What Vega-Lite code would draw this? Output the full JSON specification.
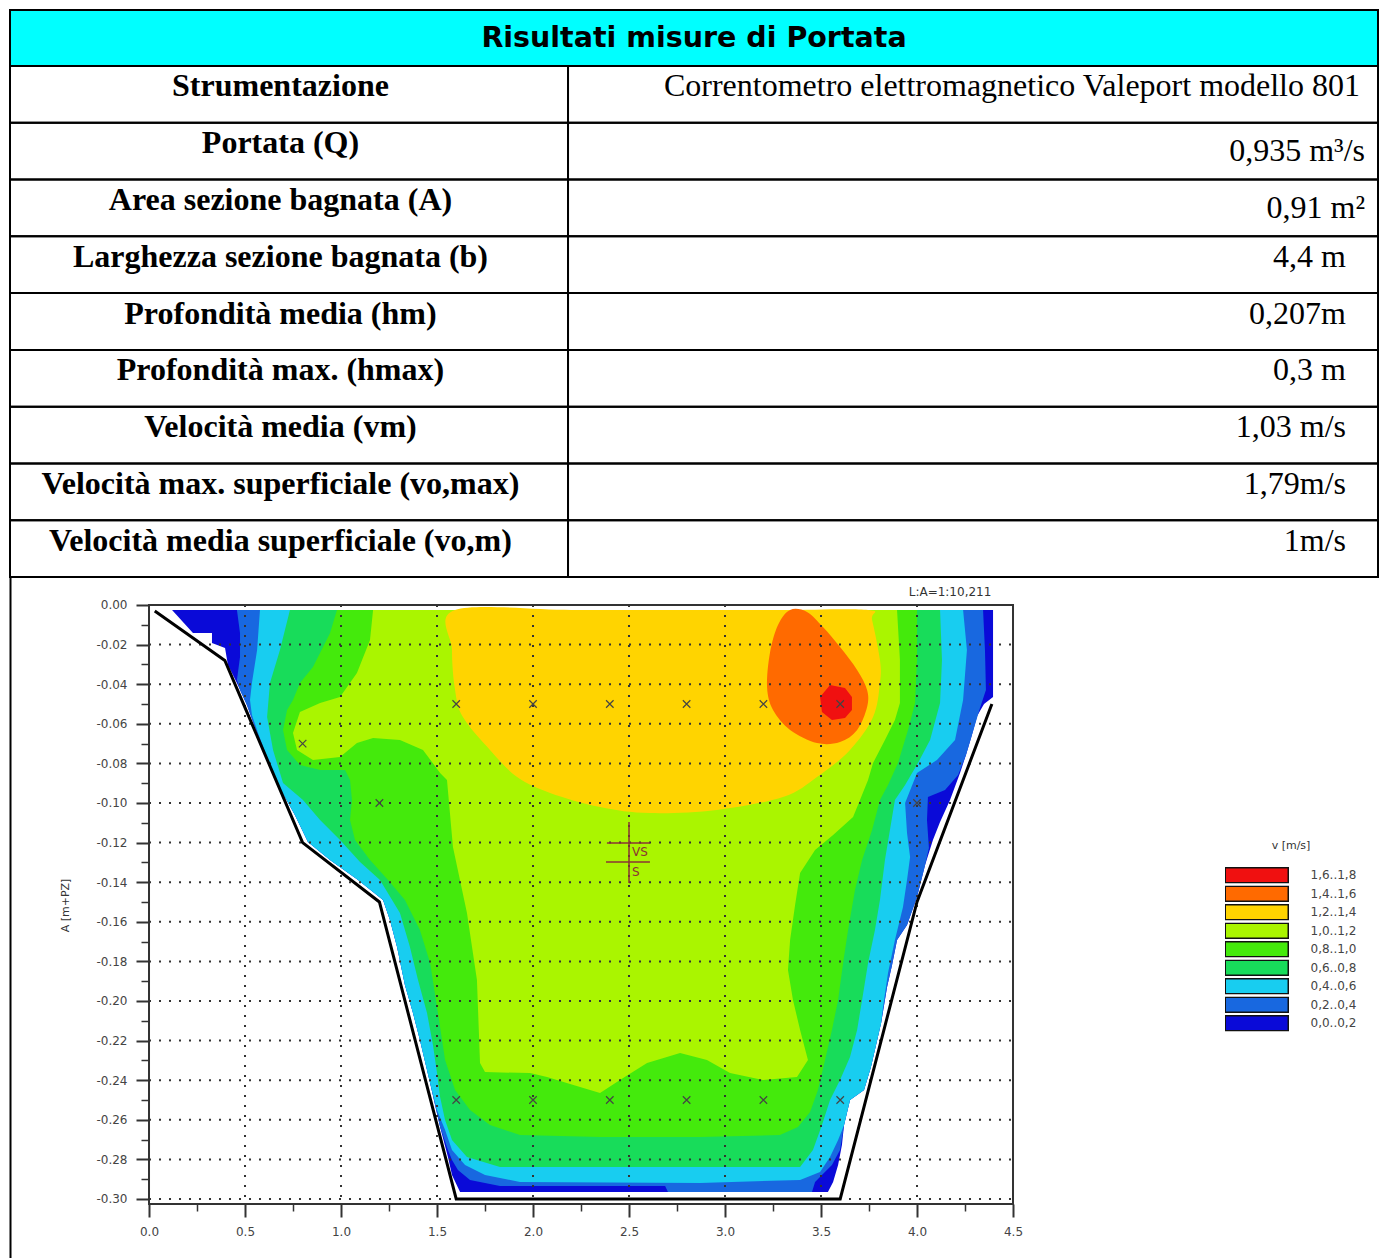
{
  "$schema": "https://vega.github.io/schema/vega-lite/v6.json",
  "background": "white",
  "padding": {"left": 9, "top": 9, "right": 0, "bottom": 0},
  "bounds": "flush",
  "spacing": 0,
  "config": {"view": {"stroke": null}},
  "datasets": {
    "rows": [
      {"k": 1, "l": "Strumentazione", "r": "Correntometro elettromagnetico Valeport modello 801"},
      {"k": 2, "l": "Portata (Q)", "r": "0,935 m³/s"},
      {"k": 3, "l": "Area sezione bagnata (A)", "r": "0,91 m²"},
      {"k": 4, "l": "Larghezza sezione bagnata (b)", "r": "4,4 m"},
      {"k": 5, "l": "Profondità media (hm)", "r": "0,207m"},
      {"k": 6, "l": "Profondità max. (hmax)", "r": "0,3 m"},
      {"k": 7, "l": "Velocità media (vm)", "r": "1,03 m/s"},
      {"k": 8, "l": "Velocità max. superficiale (vo,max)", "r": "1,79m/s"},
      {"k": 9, "l": "Velocità media superficiale (vo,m)", "r": "1m/s"}
    ],
    "contours": [
      {"b": "0,0..0,2", "i": 0, "x": 0.120, "y": -0.0025},
      {"b": "0,0..0,2", "i": 1, "x": 4.396, "y": -0.0025},
      {"b": "0,0..0,2", "i": 2, "x": 4.396, "y": -0.0465},
      {"b": "0,0..0,2", "i": 3, "x": 4.349, "y": -0.0500},
      {"b": "0,0..0,2", "i": 4, "x": 4.313, "y": -0.0561},
      {"b": "0,0..0,2", "i": 5, "x": 4.286, "y": -0.0657},
      {"b": "0,0..0,2", "i": 6, "x": 4.255, "y": -0.0758},
      {"b": "0,0..0,2", "i": 7, "x": 4.224, "y": -0.0848},
      {"b": "0,0..0,2", "i": 8, "x": 4.172, "y": -0.0985},
      {"b": "0,0..0,2", "i": 9, "x": 4.120, "y": -0.1096},
      {"b": "0,0..0,2", "i": 10, "x": 4.083, "y": -0.1187},
      {"b": "0,0..0,2", "i": 11, "x": 4.042, "y": -0.1313},
      {"b": "0,0..0,2", "i": 12, "x": 4.000, "y": -0.1475},
      {"b": "0,0..0,2", "i": 13, "x": 3.948, "y": -0.1616},
      {"b": "0,0..0,2", "i": 14, "x": 3.896, "y": -0.1692},
      {"b": "0,0..0,2", "i": 15, "x": 3.870, "y": -0.1818},
      {"b": "0,0..0,2", "i": 16, "x": 3.844, "y": -0.1929},
      {"b": "0,0..0,2", "i": 17, "x": 3.813, "y": -0.2111},
      {"b": "0,0..0,2", "i": 18, "x": 3.760, "y": -0.2333},
      {"b": "0,0..0,2", "i": 19, "x": 3.724, "y": -0.2449},
      {"b": "0,0..0,2", "i": 20, "x": 3.651, "y": -0.2500},
      {"b": "0,0..0,2", "i": 21, "x": 3.620, "y": -0.2626},
      {"b": "0,0..0,2", "i": 22, "x": 3.609, "y": -0.2727},
      {"b": "0,0..0,2", "i": 23, "x": 3.589, "y": -0.2828},
      {"b": "0,0..0,2", "i": 24, "x": 3.563, "y": -0.2914},
      {"b": "0,0..0,2", "i": 25, "x": 3.536, "y": -0.2965},
      {"b": "0,0..0,2", "i": 26, "x": 1.620, "y": -0.2965},
      {"b": "0,0..0,2", "i": 27, "x": 1.578, "y": -0.2879},
      {"b": "0,0..0,2", "i": 28, "x": 1.557, "y": -0.2788},
      {"b": "0,0..0,2", "i": 29, "x": 1.516, "y": -0.2636},
      {"b": "0,0..0,2", "i": 30, "x": 1.464, "y": -0.2414},
      {"b": "0,0..0,2", "i": 31, "x": 1.411, "y": -0.2197},
      {"b": "0,0..0,2", "i": 32, "x": 1.375, "y": -0.2061},
      {"b": "0,0..0,2", "i": 33, "x": 1.333, "y": -0.1919},
      {"b": "0,0..0,2", "i": 34, "x": 1.292, "y": -0.1727},
      {"b": "0,0..0,2", "i": 35, "x": 1.255, "y": -0.1591},
      {"b": "0,0..0,2", "i": 36, "x": 1.219, "y": -0.1490},
      {"b": "0,0..0,2", "i": 37, "x": 1.089, "y": -0.1389},
      {"b": "0,0..0,2", "i": 38, "x": 0.943, "y": -0.1288},
      {"b": "0,0..0,2", "i": 39, "x": 0.828, "y": -0.1197},
      {"b": "0,0..0,2", "i": 40, "x": 0.760, "y": -0.1061},
      {"b": "0,0..0,2", "i": 41, "x": 0.682, "y": -0.0924},
      {"b": "0,0..0,2", "i": 42, "x": 0.620, "y": -0.0783},
      {"b": "0,0..0,2", "i": 43, "x": 0.563, "y": -0.0646},
      {"b": "0,0..0,2", "i": 44, "x": 0.510, "y": -0.0505},
      {"b": "0,0..0,2", "i": 45, "x": 0.458, "y": -0.0394},
      {"b": "0,0..0,2", "i": 46, "x": 0.411, "y": -0.0303},
      {"b": "0,0..0,2", "i": 47, "x": 0.396, "y": -0.0217},
      {"b": "0,0..0,2", "i": 48, "x": 0.328, "y": -0.0192},
      {"b": "0,0..0,2", "i": 49, "x": 0.328, "y": -0.0141},
      {"b": "0,0..0,2", "i": 50, "x": 0.229, "y": -0.0141},

      {"b": "0,2..0,4", "i": 0, "x": 0.458, "y": -0.0025},
      {"b": "0,2..0,4", "i": 1, "x": 4.344, "y": -0.0025},
      {"b": "0,2..0,4", "i": 2, "x": 4.354, "y": -0.0227},
      {"b": "0,2..0,4", "i": 3, "x": 4.359, "y": -0.0429},
      {"b": "0,2..0,4", "i": 4, "x": 4.328, "y": -0.0520},
      {"b": "0,2..0,4", "i": 5, "x": 4.286, "y": -0.0657},
      {"b": "0,2..0,4", "i": 6, "x": 4.255, "y": -0.0758},
      {"b": "0,2..0,4", "i": 7, "x": 4.214, "y": -0.0859},
      {"b": "0,2..0,4", "i": 8, "x": 4.146, "y": -0.0934},
      {"b": "0,2..0,4", "i": 9, "x": 4.057, "y": -0.0970},
      {"b": "0,2..0,4", "i": 10, "x": 4.052, "y": -0.1086},
      {"b": "0,2..0,4", "i": 11, "x": 4.062, "y": -0.1227},
      {"b": "0,2..0,4", "i": 12, "x": 4.042, "y": -0.1313},
      {"b": "0,2..0,4", "i": 13, "x": 4.000, "y": -0.1475},
      {"b": "0,2..0,4", "i": 14, "x": 3.948, "y": -0.1616},
      {"b": "0,2..0,4", "i": 15, "x": 3.896, "y": -0.1692},
      {"b": "0,2..0,4", "i": 16, "x": 3.870, "y": -0.1818},
      {"b": "0,2..0,4", "i": 17, "x": 3.844, "y": -0.1929},
      {"b": "0,2..0,4", "i": 18, "x": 3.813, "y": -0.2111},
      {"b": "0,2..0,4", "i": 19, "x": 3.760, "y": -0.2333},
      {"b": "0,2..0,4", "i": 20, "x": 3.724, "y": -0.2449},
      {"b": "0,2..0,4", "i": 21, "x": 3.651, "y": -0.2500},
      {"b": "0,2..0,4", "i": 22, "x": 3.620, "y": -0.2626},
      {"b": "0,2..0,4", "i": 23, "x": 3.599, "y": -0.2753},
      {"b": "0,2..0,4", "i": 24, "x": 3.557, "y": -0.2828},
      {"b": "0,2..0,4", "i": 25, "x": 3.505, "y": -0.2879},
      {"b": "0,2..0,4", "i": 26, "x": 3.469, "y": -0.2914},
      {"b": "0,2..0,4", "i": 27, "x": 3.453, "y": -0.2965},
      {"b": "0,2..0,4", "i": 28, "x": 2.703, "y": -0.2965},
      {"b": "0,2..0,4", "i": 29, "x": 2.688, "y": -0.2934},
      {"b": "0,2..0,4", "i": 30, "x": 1.828, "y": -0.2934},
      {"b": "0,2..0,4", "i": 31, "x": 1.672, "y": -0.2904},
      {"b": "0,2..0,4", "i": 32, "x": 1.609, "y": -0.2854},
      {"b": "0,2..0,4", "i": 33, "x": 1.578, "y": -0.2803},
      {"b": "0,2..0,4", "i": 34, "x": 1.557, "y": -0.2753},
      {"b": "0,2..0,4", "i": 35, "x": 1.516, "y": -0.2636},
      {"b": "0,2..0,4", "i": 36, "x": 1.464, "y": -0.2414},
      {"b": "0,2..0,4", "i": 37, "x": 1.411, "y": -0.2197},
      {"b": "0,2..0,4", "i": 38, "x": 1.375, "y": -0.2061},
      {"b": "0,2..0,4", "i": 39, "x": 1.333, "y": -0.1919},
      {"b": "0,2..0,4", "i": 40, "x": 1.292, "y": -0.1727},
      {"b": "0,2..0,4", "i": 41, "x": 1.255, "y": -0.1591},
      {"b": "0,2..0,4", "i": 42, "x": 1.219, "y": -0.1490},
      {"b": "0,2..0,4", "i": 43, "x": 1.089, "y": -0.1389},
      {"b": "0,2..0,4", "i": 44, "x": 0.943, "y": -0.1288},
      {"b": "0,2..0,4", "i": 45, "x": 0.828, "y": -0.1197},
      {"b": "0,2..0,4", "i": 46, "x": 0.760, "y": -0.1061},
      {"b": "0,2..0,4", "i": 47, "x": 0.682, "y": -0.0924},
      {"b": "0,2..0,4", "i": 48, "x": 0.620, "y": -0.0783},
      {"b": "0,2..0,4", "i": 49, "x": 0.563, "y": -0.0646},
      {"b": "0,2..0,4", "i": 50, "x": 0.510, "y": -0.0505},
      {"b": "0,2..0,4", "i": 51, "x": 0.474, "y": -0.0429},
      {"b": "0,2..0,4", "i": 52, "x": 0.458, "y": -0.0379},
      {"b": "0,2..0,4", "i": 53, "x": 0.474, "y": -0.0263},
      {"b": "0,2..0,4", "i": 54, "x": 0.474, "y": -0.0141},

      {"b": "0,4..0,6", "i": 0, "x": 0.578, "y": -0.0025},
      {"b": "0,4..0,6", "i": 1, "x": 4.240, "y": -0.0025},
      {"b": "0,4..0,6", "i": 2, "x": 4.260, "y": -0.0227},
      {"b": "0,4..0,6", "i": 3, "x": 4.240, "y": -0.0480},
      {"b": "0,4..0,6", "i": 4, "x": 4.198, "y": -0.0682},
      {"b": "0,4..0,6", "i": 5, "x": 4.104, "y": -0.0783},
      {"b": "0,4..0,6", "i": 6, "x": 4.000, "y": -0.0848},
      {"b": "0,4..0,6", "i": 7, "x": 3.938, "y": -0.1000},
      {"b": "0,4..0,6", "i": 8, "x": 3.948, "y": -0.1152},
      {"b": "0,4..0,6", "i": 9, "x": 3.964, "y": -0.1273},
      {"b": "0,4..0,6", "i": 10, "x": 3.948, "y": -0.1389},
      {"b": "0,4..0,6", "i": 11, "x": 3.927, "y": -0.1525},
      {"b": "0,4..0,6", "i": 12, "x": 3.885, "y": -0.1692},
      {"b": "0,4..0,6", "i": 13, "x": 3.849, "y": -0.1859},
      {"b": "0,4..0,6", "i": 14, "x": 3.823, "y": -0.2030},
      {"b": "0,4..0,6", "i": 15, "x": 3.813, "y": -0.2111},
      {"b": "0,4..0,6", "i": 16, "x": 3.760, "y": -0.2333},
      {"b": "0,4..0,6", "i": 17, "x": 3.724, "y": -0.2449},
      {"b": "0,4..0,6", "i": 18, "x": 3.651, "y": -0.2500},
      {"b": "0,4..0,6", "i": 19, "x": 3.620, "y": -0.2626},
      {"b": "0,4..0,6", "i": 20, "x": 3.589, "y": -0.2702},
      {"b": "0,4..0,6", "i": 21, "x": 3.547, "y": -0.2788},
      {"b": "0,4..0,6", "i": 22, "x": 3.495, "y": -0.2864},
      {"b": "0,4..0,6", "i": 23, "x": 3.391, "y": -0.2904},
      {"b": "0,4..0,6", "i": 24, "x": 2.870, "y": -0.2919},
      {"b": "0,4..0,6", "i": 25, "x": 1.932, "y": -0.2914},
      {"b": "0,4..0,6", "i": 26, "x": 1.750, "y": -0.2879},
      {"b": "0,4..0,6", "i": 27, "x": 1.646, "y": -0.2828},
      {"b": "0,4..0,6", "i": 28, "x": 1.578, "y": -0.2753},
      {"b": "0,4..0,6", "i": 29, "x": 1.542, "y": -0.2652},
      {"b": "0,4..0,6", "i": 30, "x": 1.500, "y": -0.2551},
      {"b": "0,4..0,6", "i": 31, "x": 1.464, "y": -0.2414},
      {"b": "0,4..0,6", "i": 32, "x": 1.411, "y": -0.2197},
      {"b": "0,4..0,6", "i": 33, "x": 1.375, "y": -0.2061},
      {"b": "0,4..0,6", "i": 34, "x": 1.333, "y": -0.1919},
      {"b": "0,4..0,6", "i": 35, "x": 1.292, "y": -0.1727},
      {"b": "0,4..0,6", "i": 36, "x": 1.255, "y": -0.1591},
      {"b": "0,4..0,6", "i": 37, "x": 1.219, "y": -0.1490},
      {"b": "0,4..0,6", "i": 38, "x": 1.089, "y": -0.1389},
      {"b": "0,4..0,6", "i": 39, "x": 0.943, "y": -0.1288},
      {"b": "0,4..0,6", "i": 40, "x": 0.828, "y": -0.1197},
      {"b": "0,4..0,6", "i": 41, "x": 0.760, "y": -0.1061},
      {"b": "0,4..0,6", "i": 42, "x": 0.682, "y": -0.0924},
      {"b": "0,4..0,6", "i": 43, "x": 0.620, "y": -0.0783},
      {"b": "0,4..0,6", "i": 44, "x": 0.568, "y": -0.0646},
      {"b": "0,4..0,6", "i": 45, "x": 0.536, "y": -0.0556},
      {"b": "0,4..0,6", "i": 46, "x": 0.526, "y": -0.0480},
      {"b": "0,4..0,6", "i": 47, "x": 0.536, "y": -0.0394},
      {"b": "0,4..0,6", "i": 48, "x": 0.563, "y": -0.0227},

      {"b": "0,6..0,8", "i": 0, "x": 0.734, "y": -0.0025},
      {"b": "0,6..0,8", "i": 1, "x": 4.120, "y": -0.0025},
      {"b": "0,6..0,8", "i": 2, "x": 4.130, "y": -0.0278},
      {"b": "0,6..0,8", "i": 3, "x": 4.120, "y": -0.0495},
      {"b": "0,6..0,8", "i": 4, "x": 4.068, "y": -0.0682},
      {"b": "0,6..0,8", "i": 5, "x": 4.005, "y": -0.0798},
      {"b": "0,6..0,8", "i": 6, "x": 3.938, "y": -0.0909},
      {"b": "0,6..0,8", "i": 7, "x": 3.885, "y": -0.0985},
      {"b": "0,6..0,8", "i": 8, "x": 3.859, "y": -0.1136},
      {"b": "0,6..0,8", "i": 9, "x": 3.833, "y": -0.1288},
      {"b": "0,6..0,8", "i": 10, "x": 3.807, "y": -0.1490},
      {"b": "0,6..0,8", "i": 11, "x": 3.781, "y": -0.1641},
      {"b": "0,6..0,8", "i": 12, "x": 3.745, "y": -0.1808},
      {"b": "0,6..0,8", "i": 13, "x": 3.714, "y": -0.1995},
      {"b": "0,6..0,8", "i": 14, "x": 3.688, "y": -0.2146},
      {"b": "0,6..0,8", "i": 15, "x": 3.651, "y": -0.2283},
      {"b": "0,6..0,8", "i": 16, "x": 3.599, "y": -0.2399},
      {"b": "0,6..0,8", "i": 17, "x": 3.547, "y": -0.2500},
      {"b": "0,6..0,8", "i": 18, "x": 3.505, "y": -0.2626},
      {"b": "0,6..0,8", "i": 19, "x": 3.458, "y": -0.2753},
      {"b": "0,6..0,8", "i": 20, "x": 3.391, "y": -0.2838},
      {"b": "0,6..0,8", "i": 21, "x": 1.828, "y": -0.2838},
      {"b": "0,6..0,8", "i": 22, "x": 1.656, "y": -0.2788},
      {"b": "0,6..0,8", "i": 23, "x": 1.578, "y": -0.2702},
      {"b": "0,6..0,8", "i": 24, "x": 1.542, "y": -0.2601},
      {"b": "0,6..0,8", "i": 25, "x": 1.516, "y": -0.2485},
      {"b": "0,6..0,8", "i": 26, "x": 1.500, "y": -0.2364},
      {"b": "0,6..0,8", "i": 27, "x": 1.479, "y": -0.2222},
      {"b": "0,6..0,8", "i": 28, "x": 1.448, "y": -0.2061},
      {"b": "0,6..0,8", "i": 29, "x": 1.401, "y": -0.1894},
      {"b": "0,6..0,8", "i": 30, "x": 1.359, "y": -0.1727},
      {"b": "0,6..0,8", "i": 31, "x": 1.307, "y": -0.1556},
      {"b": "0,6..0,8", "i": 32, "x": 1.203, "y": -0.1389},
      {"b": "0,6..0,8", "i": 33, "x": 1.099, "y": -0.1298},
      {"b": "0,6..0,8", "i": 34, "x": 0.995, "y": -0.1187},
      {"b": "0,6..0,8", "i": 35, "x": 0.891, "y": -0.1086},
      {"b": "0,6..0,8", "i": 36, "x": 0.802, "y": -0.0985},
      {"b": "0,6..0,8", "i": 37, "x": 0.698, "y": -0.0899},
      {"b": "0,6..0,8", "i": 38, "x": 0.646, "y": -0.0732},
      {"b": "0,6..0,8", "i": 39, "x": 0.615, "y": -0.0566},
      {"b": "0,6..0,8", "i": 40, "x": 0.630, "y": -0.0394},
      {"b": "0,6..0,8", "i": 41, "x": 0.682, "y": -0.0227},

      {"b": "0,8..1,0", "i": 0, "x": 0.979, "y": -0.0025},
      {"b": "0,8..1,0", "i": 1, "x": 4.000, "y": -0.0025},
      {"b": "0,8..1,0", "i": 2, "x": 4.000, "y": -0.0278},
      {"b": "0,8..1,0", "i": 3, "x": 3.990, "y": -0.0495},
      {"b": "0,8..1,0", "i": 4, "x": 3.953, "y": -0.0631},
      {"b": "0,8..1,0", "i": 5, "x": 3.901, "y": -0.0798},
      {"b": "0,8..1,0", "i": 6, "x": 3.849, "y": -0.0909},
      {"b": "0,8..1,0", "i": 7, "x": 3.807, "y": -0.0985},
      {"b": "0,8..1,0", "i": 8, "x": 3.766, "y": -0.1136},
      {"b": "0,8..1,0", "i": 9, "x": 3.714, "y": -0.1288},
      {"b": "0,8..1,0", "i": 10, "x": 3.677, "y": -0.1439},
      {"b": "0,8..1,0", "i": 11, "x": 3.641, "y": -0.1641},
      {"b": "0,8..1,0", "i": 12, "x": 3.615, "y": -0.1808},
      {"b": "0,8..1,0", "i": 13, "x": 3.589, "y": -0.1995},
      {"b": "0,8..1,0", "i": 14, "x": 3.557, "y": -0.2146},
      {"b": "0,8..1,0", "i": 15, "x": 3.521, "y": -0.2298},
      {"b": "0,8..1,0", "i": 16, "x": 3.484, "y": -0.2449},
      {"b": "0,8..1,0", "i": 17, "x": 3.443, "y": -0.2561},
      {"b": "0,8..1,0", "i": 18, "x": 3.380, "y": -0.2636},
      {"b": "0,8..1,0", "i": 19, "x": 3.286, "y": -0.2677},
      {"b": "0,8..1,0", "i": 20, "x": 2.870, "y": -0.2687},
      {"b": "0,8..1,0", "i": 21, "x": 2.349, "y": -0.2687},
      {"b": "0,8..1,0", "i": 22, "x": 1.932, "y": -0.2677},
      {"b": "0,8..1,0", "i": 23, "x": 1.776, "y": -0.2626},
      {"b": "0,8..1,0", "i": 24, "x": 1.672, "y": -0.2551},
      {"b": "0,8..1,0", "i": 25, "x": 1.594, "y": -0.2449},
      {"b": "0,8..1,0", "i": 26, "x": 1.542, "y": -0.2298},
      {"b": "0,8..1,0", "i": 27, "x": 1.505, "y": -0.2061},
      {"b": "0,8..1,0", "i": 28, "x": 1.464, "y": -0.1808},
      {"b": "0,8..1,0", "i": 29, "x": 1.411, "y": -0.1641},
      {"b": "0,8..1,0", "i": 30, "x": 1.333, "y": -0.1490},
      {"b": "0,8..1,0", "i": 31, "x": 1.245, "y": -0.1389},
      {"b": "0,8..1,0", "i": 32, "x": 1.151, "y": -0.1288},
      {"b": "0,8..1,0", "i": 33, "x": 1.073, "y": -0.1187},
      {"b": "0,8..1,0", "i": 34, "x": 1.047, "y": -0.1086},
      {"b": "0,8..1,0", "i": 35, "x": 1.057, "y": -0.0985},
      {"b": "0,8..1,0", "i": 36, "x": 1.047, "y": -0.0884},
      {"b": "0,8..1,0", "i": 37, "x": 1.021, "y": -0.0833},
      {"b": "0,8..1,0", "i": 38, "x": 0.891, "y": -0.0833},
      {"b": "0,8..1,0", "i": 39, "x": 0.786, "y": -0.0808},
      {"b": "0,8..1,0", "i": 40, "x": 0.719, "y": -0.0732},
      {"b": "0,8..1,0", "i": 41, "x": 0.698, "y": -0.0631},
      {"b": "0,8..1,0", "i": 42, "x": 0.719, "y": -0.0530},
      {"b": "0,8..1,0", "i": 43, "x": 0.750, "y": -0.0480},
      {"b": "0,8..1,0", "i": 44, "x": 0.786, "y": -0.0394},
      {"b": "0,8..1,0", "i": 45, "x": 0.854, "y": -0.0313},
      {"b": "0,8..1,0", "i": 46, "x": 0.943, "y": -0.0141},

      {"b": "1,0..1,2", "i": 0, "x": 1.167, "y": -0.0025},
      {"b": "1,0..1,2", "i": 1, "x": 3.896, "y": -0.0025},
      {"b": "1,0..1,2", "i": 2, "x": 3.911, "y": -0.0278},
      {"b": "1,0..1,2", "i": 3, "x": 3.911, "y": -0.0495},
      {"b": "1,0..1,2", "i": 4, "x": 3.885, "y": -0.0581},
      {"b": "1,0..1,2", "i": 5, "x": 3.833, "y": -0.0682},
      {"b": "1,0..1,2", "i": 6, "x": 3.771, "y": -0.0798},
      {"b": "1,0..1,2", "i": 7, "x": 3.745, "y": -0.0884},
      {"b": "1,0..1,2", "i": 8, "x": 3.703, "y": -0.0985},
      {"b": "1,0..1,2", "i": 9, "x": 3.667, "y": -0.1071},
      {"b": "1,0..1,2", "i": 10, "x": 3.563, "y": -0.1162},
      {"b": "1,0..1,2", "i": 11, "x": 3.469, "y": -0.1237},
      {"b": "1,0..1,2", "i": 12, "x": 3.391, "y": -0.1354},
      {"b": "1,0..1,2", "i": 13, "x": 3.365, "y": -0.1515},
      {"b": "1,0..1,2", "i": 14, "x": 3.339, "y": -0.1692},
      {"b": "1,0..1,2", "i": 15, "x": 3.328, "y": -0.1843},
      {"b": "1,0..1,2", "i": 16, "x": 3.354, "y": -0.1995},
      {"b": "1,0..1,2", "i": 17, "x": 3.391, "y": -0.2146},
      {"b": "1,0..1,2", "i": 18, "x": 3.432, "y": -0.2298},
      {"b": "1,0..1,2", "i": 19, "x": 3.375, "y": -0.2384},
      {"b": "1,0..1,2", "i": 20, "x": 3.198, "y": -0.2399},
      {"b": "1,0..1,2", "i": 21, "x": 3.026, "y": -0.2364},
      {"b": "1,0..1,2", "i": 22, "x": 2.906, "y": -0.2298},
      {"b": "1,0..1,2", "i": 23, "x": 2.766, "y": -0.2263},
      {"b": "1,0..1,2", "i": 24, "x": 2.594, "y": -0.2313},
      {"b": "1,0..1,2", "i": 25, "x": 2.453, "y": -0.2399},
      {"b": "1,0..1,2", "i": 26, "x": 2.349, "y": -0.2465},
      {"b": "1,0..1,2", "i": 27, "x": 2.245, "y": -0.2434},
      {"b": "1,0..1,2", "i": 28, "x": 2.073, "y": -0.2384},
      {"b": "1,0..1,2", "i": 29, "x": 1.984, "y": -0.2364},
      {"b": "1,0..1,2", "i": 30, "x": 1.750, "y": -0.2359},
      {"b": "1,0..1,2", "i": 31, "x": 1.724, "y": -0.2313},
      {"b": "1,0..1,2", "i": 32, "x": 1.708, "y": -0.1894},
      {"b": "1,0..1,2", "i": 33, "x": 1.656, "y": -0.1556},
      {"b": "1,0..1,2", "i": 34, "x": 1.583, "y": -0.1222},
      {"b": "1,0..1,2", "i": 35, "x": 1.552, "y": -0.0884},
      {"b": "1,0..1,2", "i": 36, "x": 1.516, "y": -0.0848},
      {"b": "1,0..1,2", "i": 37, "x": 1.427, "y": -0.0732},
      {"b": "1,0..1,2", "i": 38, "x": 1.307, "y": -0.0682},
      {"b": "1,0..1,2", "i": 39, "x": 1.167, "y": -0.0672},
      {"b": "1,0..1,2", "i": 40, "x": 1.083, "y": -0.0697},
      {"b": "1,0..1,2", "i": 41, "x": 0.995, "y": -0.0768},
      {"b": "1,0..1,2", "i": 42, "x": 0.854, "y": -0.0783},
      {"b": "1,0..1,2", "i": 43, "x": 0.771, "y": -0.0732},
      {"b": "1,0..1,2", "i": 44, "x": 0.750, "y": -0.0646},
      {"b": "1,0..1,2", "i": 45, "x": 0.786, "y": -0.0540},
      {"b": "1,0..1,2", "i": 46, "x": 0.891, "y": -0.0495},
      {"b": "1,0..1,2", "i": 47, "x": 0.995, "y": -0.0465},
      {"b": "1,0..1,2", "i": 48, "x": 1.083, "y": -0.0343},
      {"b": "1,0..1,2", "i": 49, "x": 1.151, "y": -0.0177},

      {"b": "1,2..1,4", "i": 0, "x": 1.594, "y": -0.0025},
      {"b": "1,2..1,4", "i": 1, "x": 2.200, "y": -0.0025},
      {"b": "1,2..1,4", "i": 2, "x": 2.800, "y": -0.0025},
      {"b": "1,2..1,4", "i": 3, "x": 3.300, "y": -0.0025},
      {"b": "1,2..1,4", "i": 4, "x": 3.745, "y": -0.0025},
      {"b": "1,2..1,4", "i": 5, "x": 3.766, "y": -0.0076},
      {"b": "1,2..1,4", "i": 6, "x": 3.807, "y": -0.0278},
      {"b": "1,2..1,4", "i": 7, "x": 3.807, "y": -0.0394},
      {"b": "1,2..1,4", "i": 8, "x": 3.771, "y": -0.0566},
      {"b": "1,2..1,4", "i": 9, "x": 3.651, "y": -0.0732},
      {"b": "1,2..1,4", "i": 10, "x": 3.479, "y": -0.0869},
      {"b": "1,2..1,4", "i": 11, "x": 3.302, "y": -0.0970},
      {"b": "1,2..1,4", "i": 12, "x": 2.958, "y": -0.1035},
      {"b": "1,2..1,4", "i": 13, "x": 2.609, "y": -0.1051},
      {"b": "1,2..1,4", "i": 14, "x": 2.349, "y": -0.1020},
      {"b": "1,2..1,4", "i": 15, "x": 2.089, "y": -0.0949},
      {"b": "1,2..1,4", "i": 16, "x": 1.917, "y": -0.0869},
      {"b": "1,2..1,4", "i": 17, "x": 1.776, "y": -0.0732},
      {"b": "1,2..1,4", "i": 18, "x": 1.635, "y": -0.0566},
      {"b": "1,2..1,4", "i": 19, "x": 1.594, "y": -0.0429},
      {"b": "1,2..1,4", "i": 20, "x": 1.578, "y": -0.0227},

      {"b": "1,4..1,6", "i": 0, "x": 3.339, "y": -0.0025},
      {"b": "1,4..1,6", "i": 1, "x": 3.427, "y": -0.0035},
      {"b": "1,4..1,6", "i": 2, "x": 3.510, "y": -0.0111},
      {"b": "1,4..1,6", "i": 3, "x": 3.599, "y": -0.0212},
      {"b": "1,4..1,6", "i": 4, "x": 3.688, "y": -0.0328},
      {"b": "1,4..1,6", "i": 5, "x": 3.740, "y": -0.0429},
      {"b": "1,4..1,6", "i": 6, "x": 3.740, "y": -0.0515},
      {"b": "1,4..1,6", "i": 7, "x": 3.688, "y": -0.0631},
      {"b": "1,4..1,6", "i": 8, "x": 3.599, "y": -0.0692},
      {"b": "1,4..1,6", "i": 9, "x": 3.479, "y": -0.0697},
      {"b": "1,4..1,6", "i": 10, "x": 3.339, "y": -0.0631},
      {"b": "1,4..1,6", "i": 11, "x": 3.250, "y": -0.0530},
      {"b": "1,4..1,6", "i": 12, "x": 3.219, "y": -0.0414},
      {"b": "1,4..1,6", "i": 13, "x": 3.234, "y": -0.0242},
      {"b": "1,4..1,6", "i": 14, "x": 3.276, "y": -0.0101},

      {"b": "1,6..1,8", "i": 0, "x": 3.547, "y": -0.0404},
      {"b": "1,6..1,8", "i": 1, "x": 3.625, "y": -0.0419},
      {"b": "1,6..1,8", "i": 2, "x": 3.661, "y": -0.0465},
      {"b": "1,6..1,8", "i": 3, "x": 3.661, "y": -0.0530},
      {"b": "1,6..1,8", "i": 4, "x": 3.625, "y": -0.0571},
      {"b": "1,6..1,8", "i": 5, "x": 3.557, "y": -0.0581},
      {"b": "1,6..1,8", "i": 6, "x": 3.505, "y": -0.0540},
      {"b": "1,6..1,8", "i": 7, "x": 3.495, "y": -0.0465}
    ],
    "bed": [
      {"i": 0, "x": 0.03, "y": -0.003},
      {"i": 1, "x": 0.395, "y": -0.028},
      {"i": 2, "x": 0.8, "y": -0.12},
      {"i": 3, "x": 1.2, "y": -0.15},
      {"i": 4, "x": 1.6, "y": -0.3},
      {"i": 5, "x": 3.6, "y": -0.3},
      {"i": 6, "x": 4.0, "y": -0.15},
      {"i": 7, "x": 4.39, "y": -0.05}
    ],
    "gridH": [
      {"v": -0.02}, {"v": -0.04}, {"v": -0.06}, {"v": -0.08}, {"v": -0.1},
      {"v": -0.12}, {"v": -0.14}, {"v": -0.16}, {"v": -0.18}, {"v": -0.2},
      {"v": -0.22}, {"v": -0.24}, {"v": -0.26}, {"v": -0.28}, {"v": -0.3}
    ],
    "gridV": [
      {"v": 0.5}, {"v": 1.0}, {"v": 1.5}, {"v": 2.0}, {"v": 2.5}, {"v": 3.0}, {"v": 3.5}, {"v": 4.0}
    ],
    "pts": [
      {"x": 1.6, "y": -0.05}, {"x": 2.0, "y": -0.05}, {"x": 2.4, "y": -0.05},
      {"x": 2.8, "y": -0.05}, {"x": 3.2, "y": -0.05}, {"x": 3.6, "y": -0.05},
      {"x": 0.8, "y": -0.07}, {"x": 1.2, "y": -0.1}, {"x": 4.0, "y": -0.1},
      {"x": 1.6, "y": -0.25}, {"x": 2.0, "y": -0.25}, {"x": 2.4, "y": -0.25},
      {"x": 2.8, "y": -0.25}, {"x": 3.2, "y": -0.25}, {"x": 3.6, "y": -0.25}
    ],
    "vsLines": [
      {"x": 2.5, "x2": 2.5, "y": -0.1096, "y2": -0.1404},
      {"x": 2.385, "x2": 2.609, "y": -0.1202, "y2": -0.1202},
      {"x": 2.38, "x2": 2.609, "y": -0.1298, "y2": -0.1298}
    ],
    "vsText": [
      {"t": "VS", "x": 2.516, "y": -0.1247},
      {"t": "S", "x": 2.516, "y": -0.1348}
    ]
  },
  "vconcat": [
    {
      "width": 1368,
      "height": 56,
      "data": {"values": [{"t": "Risultati misure di Portata"}]},
      "layer": [
        {
          "mark": {"type": "rect", "fill": "#00ffff", "stroke": "#000000", "strokeWidth": 2},
          "encoding": {}
        },
        {
          "mark": {"type": "text", "font": "DejaVu Sans", "fontWeight": "bold", "fontSize": 28.5, "color": "#000000", "baseline": "middle"},
          "encoding": {"text": {"field": "t"}}
        }
      ]
    },
    {
      "width": 1368,
      "height": 511,
      "data": {"name": "rows"},
      "layer": [
        {
          "mark": {"type": "rect", "filled": false, "color": "#000000", "strokeWidth": 2},
          "encoding": {
            "y": {"field": "k", "type": "ordinal", "axis": null, "scale": {"type": "band", "paddingInner": 0, "paddingOuter": 0}}
          }
        },
        {
          "mark": {"type": "rule", "color": "#000000", "strokeWidth": 2},
          "encoding": {
            "x": {"datum": 0.4079, "type": "quantitative", "scale": {"domain": [0, 1], "nice": false, "zero": false}, "axis": null}
          }
        },
        {
          "mark": {"type": "text", "font": "Liberation Serif", "fontWeight": "bold", "fontSize": 32, "color": "#000000", "baseline": "middle", "align": "center", "dy": -8},
          "encoding": {
            "x": {"datum": 0.1977, "type": "quantitative", "axis": null},
            "y": {"field": "k", "type": "ordinal", "axis": null},
            "text": {"field": "l"}
          }
        },
        {
          "transform": [{"filter": "datum.k == 1"}],
          "mark": {"type": "text", "font": "Liberation Serif", "fontSize": 32, "color": "#000000", "baseline": "middle", "align": "right", "dx": -18, "dy": -8},
          "encoding": {
            "x": {"datum": 1, "type": "quantitative", "axis": null},
            "y": {"field": "k", "type": "ordinal", "axis": null},
            "text": {"field": "r"}
          }
        },
        {
          "transform": [{"filter": "datum.k == 2 || datum.k == 3"}],
          "mark": {"type": "text", "font": "Liberation Serif", "fontSize": 32, "color": "#000000", "baseline": "middle", "align": "right", "dx": -13, "dy": 0},
          "encoding": {
            "x": {"datum": 1, "type": "quantitative", "axis": null},
            "y": {"field": "k", "type": "ordinal", "axis": null},
            "text": {"field": "r"}
          }
        },
        {
          "transform": [{"filter": "datum.k >= 4"}],
          "mark": {"type": "text", "font": "Liberation Serif", "fontSize": 32, "color": "#000000", "baseline": "middle", "align": "right", "dx": -32, "dy": -8},
          "encoding": {
            "x": {"datum": 1, "type": "quantitative", "axis": null},
            "y": {"field": "k", "type": "ordinal", "axis": null},
            "text": {"field": "r"}
          }
        }
      ]
    },
    {
      "width": 1368,
      "height": 681,
      "resolve": {"axis": {"x": "independent", "y": "independent"}},
      "layer": [
        {
          "data": {"name": "contours"},
          "transform": [{"filter": "datum.b !== '1,2..1,4' && datum.b !== '1,4..1,6' && datum.b !== '1,6..1,8'"}],
          "mark": {"type": "line", "filled": true, "interpolate": "linear"},
          "encoding": {
            "x": {"field": "x", "type": "quantitative", "scale": {"domain": [-0.724, 6.401], "nice": false, "zero": false}, "axis": null},
            "y": {"field": "y", "type": "quantitative", "scale": {"domain": [-0.3298, 0.01414], "nice": false, "zero": false}, "axis": null},
            "color": {
              "field": "b",
              "type": "nominal",
              "scale": {
                "domain": ["1,6..1,8", "1,4..1,6", "1,2..1,4", "1,0..1,2", "0,8..1,0", "0,6..0,8", "0,4..0,6", "0,2..0,4", "0,0..0,2"],
                "range": ["#f01010", "#ff6a00", "#ffd400", "#aaf500", "#44ea0c", "#18dc5a", "#18cdf0", "#1868e0", "#0a0ad8"]
              },
              "legend": {
                "orient": "none",
                "legendX": 1215,
                "legendY": 830,
                "padding": 0,
                "title": "v [m/s]",
                "titleFont": "DejaVu Sans",
                "titleFontSize": 11,
                "titleFontWeight": "normal",
                "titleColor": "#333333",
                "titleAnchor": "middle",
                "titlePadding": 16,
                "symbolType": "M-4.2,-1H4.2V1H-4.2Z",
                "symbolSize": 225,
                "symbolStrokeColor": "#111111",
                "symbolStrokeWidth": 1.5,
                "symbolOpacity": 1,
                "symbolOffset": 23.25,
                "labelFont": "DejaVu Sans",
                "labelFontSize": 12,
                "labelColor": "#444444",
                "labelOffset": 45.25,
                "clipHeight": 16.5,
                "rowPadding": 1.5
              }
            },
            "order": {"field": "i", "type": "quantitative"}
          }
        },
        {
          "data": {"name": "contours"},
          "transform": [{"filter": "datum.b === '1,2..1,4' || datum.b === '1,4..1,6'"}],
          "mark": {"type": "line", "filled": true, "interpolate": "cardinal-closed"},
          "encoding": {
            "x": {"field": "x", "type": "quantitative", "axis": null},
            "y": {"field": "y", "type": "quantitative", "axis": null},
            "color": {"field": "b", "type": "nominal"},
            "order": {"field": "i", "type": "quantitative"}
          }
        },
        {
          "data": {"name": "contours"},
          "transform": [{"filter": "datum.b === '1,6..1,8'"}],
          "mark": {"type": "line", "filled": true, "interpolate": "linear"},
          "encoding": {
            "x": {"field": "x", "type": "quantitative", "axis": null},
            "y": {"field": "y", "type": "quantitative", "axis": null},
            "color": {"field": "b", "type": "nominal"},
            "order": {"field": "i", "type": "quantitative"}
          }
        },
        {
          "data": {"name": "gridH"},
          "mark": {"type": "rule", "strokeDash": [2, 8], "strokeWidth": 2, "color": "#333333"},
          "encoding": {
            "y": {
              "field": "v",
              "type": "quantitative",
              "axis": {"orient": "left", "offset": 0, "domain": true, "domainColor": "#000000", "domainWidth": 2, "ticks": false, "labels": false, "grid": false, "title": null}
            },
            "x": {"datum": 0, "type": "quantitative", "axis": null},
            "x2": {"datum": 4.5}
          }
        },
        {
          "data": {"name": "gridV"},
          "mark": {"type": "rule", "strokeDash": [2, 8], "strokeWidth": 2, "color": "#333333", "y2Offset": 5},
          "encoding": {
            "x": {
              "field": "v",
              "type": "quantitative",
              "axis": {"orient": "bottom", "offset": -54, "values": [0.25, 0.75, 1.25, 1.75, 2.25, 2.75, 3.25, 3.75, 4.25], "domain": false, "labels": false, "grid": false, "tickSize": 7, "tickWidth": 1.5, "tickColor": "#333333", "title": null}
            },
            "y": {
              "datum": 0,
              "type": "quantitative",
              "axis": {"orient": "left", "offset": -139, "values": [-0.01, -0.03, -0.05, -0.07, -0.09, -0.11, -0.13, -0.15, -0.17, -0.19, -0.21, -0.23, -0.25, -0.27, -0.29], "domain": false, "labels": false, "grid": false, "tickSize": 8, "tickWidth": 1.5, "tickColor": "#333333", "title": null}
            },
            "y2": {"datum": -0.3}
          }
        },
        {
          "data": {"name": "bed"},
          "mark": {"type": "line", "color": "#000000", "strokeWidth": 3, "strokeJoin": "miter"},
          "encoding": {
            "x": {"field": "x", "type": "quantitative", "axis": null},
            "y": {"field": "y", "type": "quantitative", "axis": null},
            "order": {"field": "i", "type": "quantitative"}
          }
        },
        {
          "data": {"values": [{}]},
          "mark": {"type": "rect", "filled": false, "color": "#333333", "strokeWidth": 2, "y2Offset": 5},
          "encoding": {
            "x": {
              "datum": 0,
              "type": "quantitative",
              "axis": {"orient": "bottom", "offset": -54, "values": [0, 0.5, 1, 1.5, 2, 2.5, 3, 3.5, 4, 4.5], "format": ".1f", "domain": false, "grid": false, "tickSize": 13, "tickWidth": 2, "tickColor": "#333333", "labelFont": "DejaVu Sans", "labelFontSize": 12, "labelColor": "#444444", "labelPadding": 9, "labelOverlap": false, "labelFlush": false, "title": null}
            },
            "x2": {"datum": 4.5},
            "y": {
              "datum": 0,
              "type": "quantitative",
              "axis": {"orient": "left", "offset": -139, "values": [0, -0.02, -0.04, -0.06, -0.08, -0.1, -0.12, -0.14, -0.16, -0.18, -0.2, -0.22, -0.24, -0.26, -0.28, -0.3], "labelExpr": "datum.value == 0 ? '0.00' : '-' + format(abs(datum.value), '.2f')", "domain": false, "grid": false, "tickSize": 13, "tickWidth": 2, "tickColor": "#333333", "labelFont": "DejaVu Sans", "labelFontSize": 12, "labelColor": "#444444", "labelPadding": 9, "labelOverlap": false, "labelFlush": false, "title": "A [m+PZ]", "titleFont": "DejaVu Sans", "titleFontSize": 11, "titleFontWeight": "normal", "titleColor": "#333333", "titleAngle": -90, "titleBaseline": "middle", "titleX": -84, "titleY": 328}
            },
            "y2": {"datum": -0.3}
          }
        },
        {
          "data": {"name": "pts"},
          "mark": {"type": "point", "shape": "M-1,-1L1,1M-1,1L1,-1", "size": 56, "filled": false, "color": "#444444", "strokeWidth": 1.2, "opacity": 1},
          "encoding": {
            "x": {"field": "x", "type": "quantitative", "axis": null},
            "y": {"field": "y", "type": "quantitative", "axis": null}
          }
        },
        {
          "data": {"name": "vsLines"},
          "mark": {"type": "rule", "color": "#8a3434", "strokeWidth": 1.5},
          "encoding": {
            "x": {"field": "x", "type": "quantitative", "axis": null},
            "x2": {"field": "x2"},
            "y": {"field": "y", "type": "quantitative", "axis": null},
            "y2": {"field": "y2"}
          }
        },
        {
          "data": {"name": "vsText"},
          "mark": {"type": "text", "font": "DejaVu Sans", "fontSize": 12, "color": "#8a3434", "align": "left", "baseline": "middle"},
          "encoding": {
            "x": {"field": "x", "type": "quantitative", "axis": null},
            "y": {"field": "y", "type": "quantitative", "axis": null},
            "text": {"field": "t"}
          }
        },
        {
          "data": {"values": [{"t": "L:A=1:10,211"}]},
          "mark": {"type": "text", "font": "DejaVu Sans", "fontSize": 12, "color": "#333333", "align": "center", "baseline": "middle"},
          "encoding": {
            "x": {"datum": 4.172, "type": "quantitative", "axis": null},
            "y": {"datum": 0.0066, "type": "quantitative", "axis": null},
            "text": {"field": "t"}
          }
        }
      ]
    }
  ]
}
